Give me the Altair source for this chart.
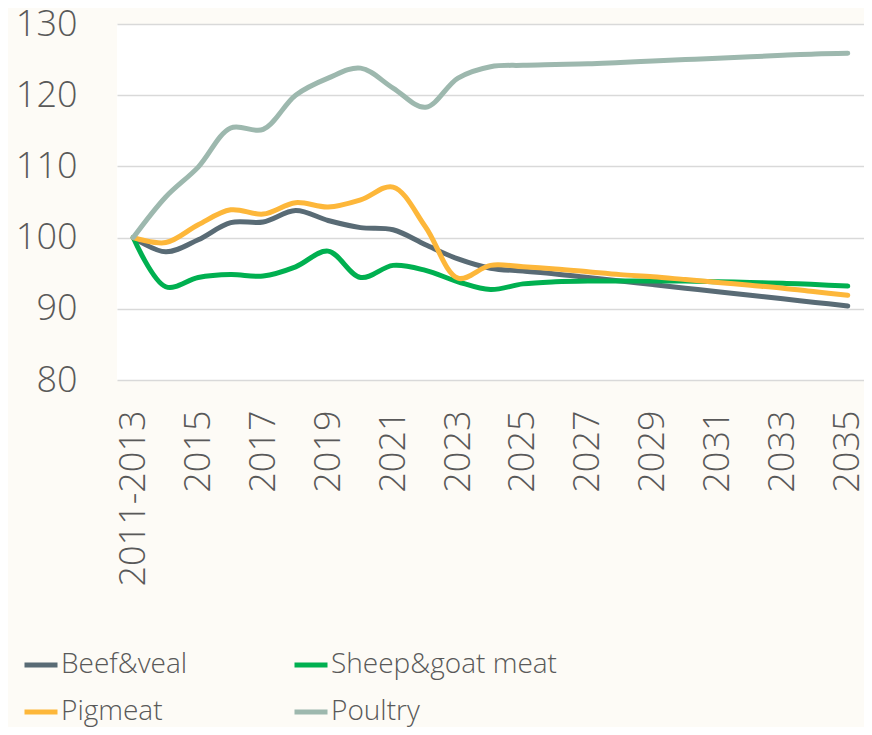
import altair as alt
import pandas as pd

years = ["2011-2013", "2014", "2015", "2016", "2017", "2018", "2019", "2020", "2021",
         "2022", "2023", "2024", "2025", "2026", "2027", "2028", "2029", "2030",
         "2031", "2032", "2033", "2034", "2035"]
beef = [100, 98.0, 99.7, 102.1, 102.2, 103.8, 102.4, 101.4, 101.1, 99.0, 97.0, 95.7,
        95.3, 94.9, 94.4, 93.9, 93.4, 92.9, 92.4, 91.9, 91.4, 90.9, 90.4]
sheep = [100, 93.1, 94.4, 94.8, 94.6, 95.9, 98.1, 94.4, 96.1, 95.4, 93.8, 92.7,
         93.5, 93.8, 93.9, 93.9, 93.9, 93.9, 93.8, 93.7, 93.6, 93.4, 93.2]
pig = [100, 99.3, 101.8, 103.9, 103.3, 104.9, 104.3, 105.3, 107.1, 101.5, 94.3, 96.1,
       95.9, 95.6, 95.2, 94.8, 94.5, 94.1, 93.7, 93.3, 92.9, 92.4, 91.9]
poultry = [100, 105.7, 109.9, 115.4, 115.2, 120.0, 122.4, 123.8, 121.0, 118.3, 122.4, 124.0,
           124.2, 124.3, 124.4, 124.6, 124.8, 125.0, 125.2, 125.4, 125.6, 125.8, 125.9]

series_names = ["Beef&veal", "Sheep&goat meat", "Pigmeat", "Poultry"]
# legend is laid out column by column: list in the order that reads row by row
legend_order = ["Beef&veal", "Pigmeat", "Sheep&goat meat", "Poultry"]
legend_colors = ["#596B75", "#FDB73A", "#00B050", "#9DB8AE"]
shown_labels = years[0:1] + years[2::2]

rows = []
for name, vals in zip(series_names, [beef, sheep, pig, poultry]):
    for i, (yr, v) in enumerate(zip(years, vals)):
        rows.append({"year": yr, "value": v, "series": name, "idx": i})
df = pd.DataFrame(rows)

FONT = "Open Sans"
TXT = "#595959"

chart = alt.Chart(df).mark_line(
    interpolate="catmull-rom", strokeWidth=5, strokeCap="round", strokeJoin="round"
).encode(
    x=alt.X("year:O", sort=years, title=None,
            axis=alt.Axis(values=shown_labels, labelAngle=-90, labelFont=FONT,
                          labelFontSize=36, labelFontWeight=300, labelColor=TXT,
                          ticks=False, domain=False, labelPadding=30, grid=False)),
    y=alt.Y("value:Q", title=None,
            scale=alt.Scale(domain=[80, 130], nice=False, zero=False),
            axis=alt.Axis(values=[80, 90, 100, 110, 120, 130], labelFont=FONT,
                          labelFontSize=36, labelFontWeight=300, labelColor=TXT,
                          ticks=False, domain=False, labelPadding=40,
                          gridColor="#D9D9D9", gridWidth=1.6)),
    color=alt.Color("series:N",
                    scale=alt.Scale(domain=legend_order, range=legend_colors),
                    legend=alt.Legend(title=None, orient="none", legendX=-95, legendY=622,
                                      columns=2, columnPadding=96, rowPadding=14,
                                      symbolType="stroke", symbolSize=1089,
                                      symbolStrokeWidth=5, labelFont=FONT,
                                      labelFontSize=28, labelFontWeight=300,
                                      labelLimit=500,
                                      labelColor=TXT, labelOffset=1, padding=0)),
    order=alt.Order("idx:Q"),
).properties(
    width=747, height=356,
    autosize=alt.AutoSizeParams(type="none"),
    padding={"left": 109, "top": 16, "right": 0, "bottom": 347},
    background="#FDFBF6",
).configure_view(fill="white", stroke=None)

chart.save("out.html", embed_options={"renderer": "svg", "actions": False})
